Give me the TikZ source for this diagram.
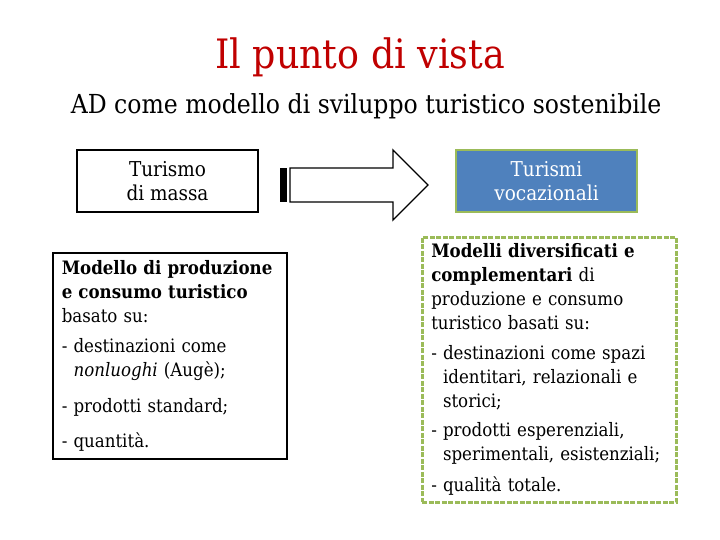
\documentclass[tikz,border=0pt]{standalone}
\usepackage{fontspec}
\setmainfont{DejaVu Serif Condensed}

\definecolor{titlered}{HTML}{C00000}
\definecolor{vocblue}{HTML}{4F81BD}
\definecolor{vocgreen}{HTML}{9BBB59}

\tikzset{
  headbox/.style={draw, line width=1.5pt, minimum width=181pt, minimum height=62pt,
    align=center, font=\fontsize{20.5}{24.5}\selectfont},
  listbox/.style={anchor=north west, align=left, inner xsep=9pt,
    font=\fontsize{18.5}{24}\selectfont},
}

\begin{document}
\begin{tikzpicture}[x=1pt,y=-1pt]
  \useasboundingbox (0,0) rectangle (720,540);

  \node[text=titlered, font=\fontsize{40.5}{44}\selectfont] (title) at (360,57) {Il punto di vista};
  \node[font=\fontsize{26.2}{30}\selectfont] (sub) at (366,106) {AD come modello di sviluppo turistico sostenibile};

  \node[headbox] (massa) at (167.5,181) {Turismo\\di massa};
  \node[headbox, fill=vocblue, draw=vocgreen, line width=2.5pt, text=white] (voc) at (546.5,181) {Turismi\\vocazionali};

  % striped arrow between the two heads
  \fill (280,168) rectangle (287,202);
  \draw[line width=1.3pt, line join=miter] (290,168) -- (393,168) -- (393,150) -- (428,185)
    -- (393,220) -- (393,202) -- (290,202) -- cycle;

  \node[listbox, draw, line width=1.5pt, minimum width=234pt, minimum height=206pt, text width=216pt] (old) at (52,252)
    {\textbf{Modello di produzione}\\
     \textbf{e consumo turistico}\\
     basato su:\\[6pt]
     -~destinazioni come\\
     \phantom{-~}\textit{nonluoghi} (Augè);\\[12pt]
     -~prodotti standard;\\[11pt]
     -~quantità.};

  \node[listbox, draw=vocgreen, line width=2.5pt, dash pattern=on 5pt off 1.5pt,
        minimum width=254pt, minimum height=265pt, text width=236pt] (new) at (421,236)
    {\textbf{Modelli diversificati e}\\
     \textbf{complementari} di\\
     produzione e consumo\\
     turistico basati su:\\[6pt]
     -~destinazioni come spazi\\
     \phantom{-~}identitari, relazionali e\\
     \phantom{-~}storici;\\[5pt]
     -~prodotti esperenziali,\\
     \phantom{-~}sperimentali, esistenziali;\\[7pt]
     -~qualità totale.};

\end{tikzpicture}
\end{document}
